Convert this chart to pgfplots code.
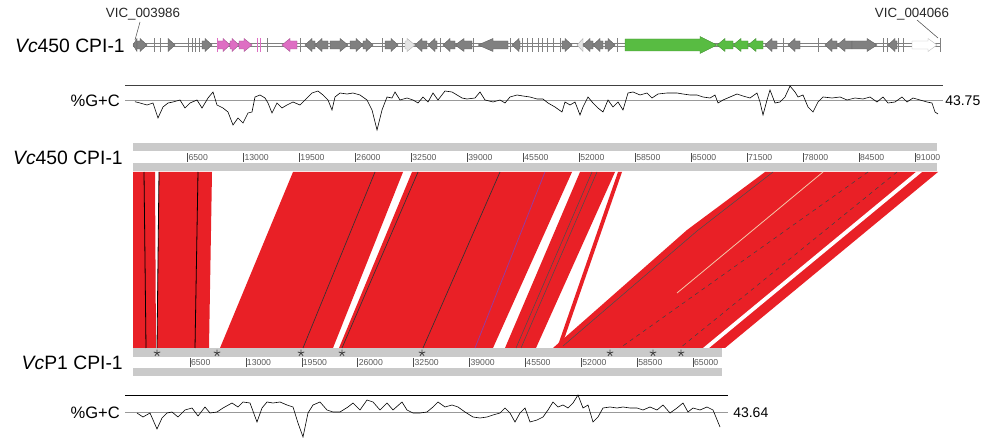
\documentclass[border=0pt]{standalone}
\usepackage{pgfplots}
\pgfplotsset{compat=1.18}
\usepackage{fontspec}
\setmainfont{Liberation Sans}
\definecolor{bandred}{RGB}{233,32,38}
\definecolor{genegray}{RGB}{128,128,128}
\definecolor{genepink}{RGB}{222,110,195}
\definecolor{genegreen}{RGB}{88,188,66}
\definecolor{genelight}{RGB}{228,228,228}
\definecolor{rulergray}{RGB}{202,202,202}
\definecolor{labgray}{RGB}{90,90,90}
% gene arrow: #1 start, #2 end, #3 R/L, #4 fill colour, #5 head length
\def\gyc{45}
\def\bh{4}\def\hh{6.5}
\newcommand\gene[5]{%
  \ifx R#3
    \pgfmathsetmacro\ga{#1}\pgfmathsetmacro\gb{max(#1,#2-#5)}\pgfmathsetmacro\gt{#2}%
  \else
    \pgfmathsetmacro\ga{#2}\pgfmathsetmacro\gb{min(#2,#1+#5)}\pgfmathsetmacro\gt{#1}%
  \fi
  \pgfmathsetmacro\ya{\gyc-\bh}\pgfmathsetmacro\yb{\gyc+\bh}%
  \pgfmathsetmacro\yc{\gyc-\hh}\pgfmathsetmacro\yd{\gyc+\hh}%
  \addplot[fill=#4, draw=#4!75!black, line width=0.3pt] coordinates
    {(\ga,\ya) (\gb,\ya) (\gb,\yc) (\gt,\gyc) (\gb,\yd) (\gb,\yb) (\ga,\yb)} -- cycle;
}
\pgfplotsset{rulerlab/.style={only marks, mark=|, mark size=3.4pt, black!70,
  mark options={line width=0.4pt},
  nodes near coords, point meta=explicit symbolic,
  nodes near coords style={anchor=west, inner sep=0.6pt, text=labgray,
    font=\fontsize{6.5}{7}\selectfont}}}
\begin{document}
\begin{tikzpicture}
\begin{axis}[scale only axis, width=736.5pt, height=328.5pt,
  xmin=0, xmax=982, ymin=0, ymax=438, y dir=reverse,
  hide axis, clip=false]
\path (rel axis cs:0,0) rectangle (rel axis cs:1,1);

% ---------------- gene track ----------------
\addplot[genegray, line width=0.35pt] coordinates {(133,43.5) (940,43.5)};
\addplot[genegray, line width=0.35pt] coordinates {(133,46.5) (940,46.5)};
\addplot[only marks, mark=|, mark size=4.9pt, genegray, mark options={line width=0.4pt}] coordinates {
 (154,45) (160,45) (188,45) (192,45) (195,45) (199,45) (267,45) (300,45) (382,45) (402,45)
 (440,45) (473,45) (510,45) (522,45) (527,45) (532,45) (538,45) (542,45) (547,45) (553,45)
 (560,45) (617,45) (783,45) (818,45) (883,45) (887,45) (898,45) (903,45) (940,45)};
\addplot[only marks, mark=|, mark size=4.9pt, genepink, mark options={line width=0.4pt}] coordinates {
 (217,45) (257,45) (260,45)};
\gene{133}{137}{L}{genegray}{7}
\gene{137}{147}{R}{genegray}{7}
\gene{168}{175}{R}{genegray}{7}
\gene{202}{212}{R}{genegray}{7}
\gene{218}{230}{R}{genepink}{7}
\gene{230}{239}{R}{genepink}{7}
\gene{239}{252}{R}{genepink}{8}
\gene{282}{297}{L}{genepink}{8}
\gene{305}{315}{L}{genegray}{7}
\gene{315}{328}{L}{genegray}{7}
\gene{330}{348}{R}{genegray}{8}
\gene{350}{363}{R}{genegray}{7}
\gene{363}{373}{R}{genegray}{7}
\gene{385}{398}{R}{genegray}{7}
\gene{405}{415}{R}{genelight}{8}
\gene{415}{427}{L}{genegray}{7}
\gene{428}{437}{L}{genegray}{7}
\gene{443}{455}{L}{genegray}{7}
\gene{455}{472}{L}{genegray}{9}
\gene{478}{508}{L}{genegray}{15}
\gene{512}{520}{L}{genegray}{7}
\gene{562}{572}{R}{genegray}{7}
\gene{577}{583}{L}{genelight}{6}
\gene{583}{593}{L}{genegray}{7}
\gene{593}{603}{L}{genegray}{7}
\gene{605}{615}{R}{genegray}{7}
\gene{717}{733}{L}{genegreen}{8}
\gene{733}{748}{L}{genegreen}{8}
\gene{748}{763}{L}{genegreen}{8}
\gene{765}{777}{L}{genegray}{7}
\gene{788}{800}{L}{genegray}{7}
\gene{825}{837}{L}{genegray}{7}
\gene{837}{852}{L}{genegray}{8}
\gene{852}{877}{R}{genegray}{10}
\gene{888}{897}{L}{genegray}{7}
\gene{912}{937}{R}{white}{9}
\def\bh{6}\def\hh{8.5}
\gene{625}{717}{R}{genegreen}{17}

\draw[black!70, line width=0.4pt] (axis cs:140,22) -- (axis cs:135,40);
\draw[black!70, line width=0.4pt] (axis cs:917,20) -- (axis cs:938,38);
\node[font=\fontsize{10}{11}\selectfont, text=black!85] at (axis cs:143,14) {VIC\_003986};
\node[font=\fontsize{10}{11}\selectfont, text=black!85] at (axis cs:912,14) {VIC\_004066};
\node[anchor=east, font=\fontsize{14.5}{16}\selectfont, inner sep=0pt] at (axis cs:125,46) {\textit{Vc}450 CPI-1};

% ---------------- %G+C top ----------------
\addplot[black!75, line width=0.5pt] coordinates {(125,85) (943,85)};
\addplot[black!40, line width=0.5pt] coordinates {(125,100.7) (943,100.7)};
\addplot[black, line width=0.45pt] coordinates {
(135,101.7) (140,103) (147,105) (153,103) (158,118) (163,107) (168,103) (173,102)
(180,100) (185,108) (190,103) (197,100) (202,108) (208,98) (213,92) (217,105)
(223,108) (228,112) (233,125) (238,118) (243,123) (248,113) (252,112) (255,97)
(260,95) (265,98) (268,103) (272,113) (277,103) (282,108) (287,105) (293,102)
(300,105) (305,100) (312,93) (318,91) (323,95) (328,100) (332,110) (335,97)
(340,93) (347,94) (353,93) (360,95) (367,100) (372,110) (377,130) (382,110)
(387,97) (392,98) (395,92) (400,100) (407,98) (413,100) (418,103) (423,97)
(428,102) (433,93) (438,100) (445,91) (452,92) (457,95) (462,98) (467,99)
(475,98) (480,92) (485,100) (493,102) (500,100) (505,103) (510,97) (517,95)
(523,96) (530,97) (537,99) (543,99) (548,103) (555,107) (562,112) (565,102)
(570,105) (575,102) (580,115) (583,107) (588,97) (593,103) (598,108) (603,112)
(608,100) (613,107) (618,102) (623,110) (628,93) (633,92) (640,95) (647,93)
(652,98) (658,94) (667,93) (677,93) (683,94) (690,95) (697,95) (703,97)
(710,98) (715,95) (718,103) (723,100) (730,97) (737,94) (743,96) (750,98)
(757,93) (760,102) (763,115) (767,100) (770,90) (775,103) (780,102) (785,97)
(790,86) (795,92) (798,97) (803,95) (808,107) (813,112) (818,102) (823,97)
(832,98) (840,97) (847,100) (855,98) (863,99) (870,97) (877,102) (883,97)
(888,103) (895,102) (902,97) (907,102) (913,98) (920,100) (927,102) (932,103)
(935,112) (938,114)};
\node[anchor=east, font=\fontsize{12.4}{14}\selectfont, inner sep=0pt] at (axis cs:120,101) {\%G+C};
\node[anchor=west, font=\fontsize{10.5}{12}\selectfont, inner sep=0pt] at (axis cs:945,101) {43.75};

% ---------------- rulers ----------------
\addplot[fill=rulergray, draw=none] coordinates {(133,143) (937,143) (937,151) (133,151)} -- cycle;
\addplot[fill=rulergray, draw=none] coordinates {(133,163) (937,163) (937,171) (133,171)} -- cycle;
\addplot[fill=rulergray, draw=none] coordinates {(133,348) (722,348) (722,357) (133,357)} -- cycle;
\addplot[fill=rulergray, draw=none] coordinates {(133,368) (722,368) (722,376) (133,376)} -- cycle;
\node[anchor=east, font=\fontsize{14.5}{16}\selectfont, inner sep=0pt] at (axis cs:123,158) {\textit{Vc}450 CPI-1};
\node[anchor=east, font=\fontsize{14.5}{16}\selectfont, inner sep=0pt] at (axis cs:123,363) {\textit{Vc}P1 CPI-1};

\addplot[rulerlab] coordinates {
 (187.5,157.8)[6500] (243.5,157.8)[13000] (299.4,157.8)[19500] (355.4,157.8)[26000]
 (411.3,157.8)[32500] (467.3,157.8)[39000] (523.3,157.8)[45500] (579.2,157.8)[52000]
 (635.2,157.8)[58500] (691.1,157.8)[65000] (747.1,157.8)[71500] (803.0,157.8)[78000]
 (859.0,157.8)[84500] (915.0,157.8)[91000]};
\addplot[rulerlab] coordinates {
 (190.0,362.3)[6500] (245.9,362.3)[13000] (301.8,362.3)[19500] (357.7,362.3)[26000]
 (413.6,362.3)[32500] (469.5,362.3)[39000] (525.4,362.3)[45500] (581.3,362.3)[52000]
 (637.2,362.3)[58500] (693.1,362.3)[65000]};

% ---------------- synteny bands ----------------
\addplot[fill=bandred, draw=none] coordinates {(133,172) (155,172) (156,348) (133,348)} -- cycle;
\addplot[fill=bandred, draw=none] coordinates {(159,172) (212,172) (209,348) (157,348)} -- cycle;
\addplot[fill=bandred, draw=none] coordinates {(293,172) (403,172) (333,348) (220,348)} -- cycle;
\addplot[fill=bandred, draw=none] coordinates {(412,172) (572,172) (493,348) (339,348)} -- cycle;
\addplot[fill=bandred, draw=none] coordinates {(580,172) (615,172) (536,348) (505,348)} -- cycle;
\addplot[fill=bandred, draw=none] coordinates {(618,172) (622,172) (561,348) (557,348)} -- cycle;
\addplot[fill=bandred, draw=none] coordinates {(765,172) (938,172) (725,348) (553,348) (687,230)} -- cycle;
% white gaps inside the last block
\addplot[fill=white, draw=none] coordinates {(916,172) (922,172) (709,348) (703,348)} -- cycle;
\addplot[color={rgb,255:red,245;green,200;blue,170}, line width=0.6pt] coordinates {(823,172) (677,293)};
% dark lines
\addplot[black, line width=0.6pt] coordinates {(144,172) (146,348)};
\addplot[black, line width=0.6pt] coordinates {(159,172) (157,348)};
\addplot[black, line width=0.6pt] coordinates {(198,172) (195,348)};
\addplot[black!80, line width=0.5pt] coordinates {(375,172) (303,348)};
\addplot[black!80, line width=0.5pt] coordinates {(418,172) (342,348)};
\addplot[black!80, line width=0.5pt] coordinates {(500,172) (423,348)};
\addplot[color={rgb,255:red,150;green,60;blue,160}, line width=0.6pt] coordinates {(545,172) (475,348)};
\addplot[black!70, line width=0.4pt] coordinates {(592,172) (516,348)};
\addplot[black!70, line width=0.4pt] coordinates {(597,172) (521,348)};
\addplot[black!70, line width=0.4pt] coordinates {(773,172) (697,231) (563,346)};
\addplot[black!75, line width=0.4pt, dashed] coordinates {(868,172) (620,348)};
\addplot[black!75, line width=0.4pt, dashed] coordinates {(897,172) (680,348)};

% stars
\addplot[only marks, mark=star, mark size=2.6pt, color=black!75, mark options={line width=0.6pt}] coordinates {
 (157,353) (217,353) (301,353) (342,353) (422,353) (610,353) (653,353) (681,353)};

% ---------------- %G+C bottom ----------------
\addplot[black, line width=0.5pt] coordinates {(125,395) (728,395)};
\addplot[black!40, line width=0.5pt] coordinates {(125,412) (728,412)};
\addplot[black, line width=0.45pt] coordinates {
(137,413) (143,417) (150,413) (157,429) (162,418) (167,413) (172,412) (178,417)
(185,410) (192,408) (198,416) (205,407) (210,413) (217,412) (223,408) (232,403)
(238,407) (243,402) (250,403) (257,422) (262,408) (267,402) (273,403) (280,402)
(287,405) (293,407) (298,423) (303,437) (308,413) (313,405) (320,402) (327,410)
(333,412) (340,412) (348,407) (353,403) (360,410) (367,400) (373,402) (380,410)
(387,403) (393,410) (402,402) (407,410) (413,413) (420,413) (427,412) (433,407)
(438,402) (445,407) (452,405) (458,407) (465,412) (473,417) (480,418) (487,417)
(493,415) (500,413) (505,408) (510,413) (515,422) (520,413) (525,408) (530,422)
(537,420) (543,417) (548,410) (553,402) (558,407) (563,405) (568,408) (573,403)
(578,395) (583,408) (588,405) (593,422) (598,417) (603,408) (610,407) (617,408)
(623,407) (630,408) (637,408) (643,410) (650,407) (657,410) (663,405) (670,413)
(677,408) (683,403) (688,412) (693,408) (700,410) (707,407) (713,410) (720,427)};
\node[anchor=east, font=\fontsize{12.4}{14}\selectfont, inner sep=0pt] at (axis cs:120,413) {\%G+C};
\node[anchor=west, font=\fontsize{10.5}{12}\selectfont, inner sep=0pt] at (axis cs:733,413) {43.64};
\end{axis}
\end{tikzpicture}
\end{document}
